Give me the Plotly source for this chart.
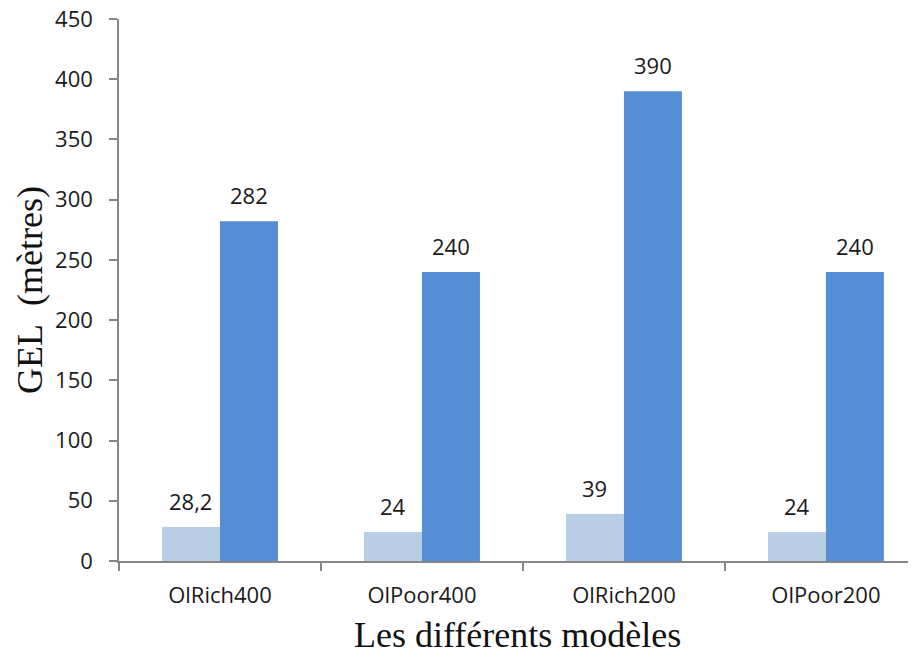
import plotly.graph_objects as go

categories = ["OlRich400", "OlPoor400", "OlRich200", "OlPoor200"]
light_values = [28.2, 24, 39, 24]
dark_values = [282, 240, 390, 240]
y_ticks = [0, 50, 100, 150, 200, 250, 300, 350, 400, 450]
x_title = "Les différents modèles"
y_title = "GEL\u00a0\u00a0(mètres)"

LABEL_FONT = dict(family="Open Sans", size=22, color="#1a1a1a")
TITLE_FONT = dict(family="Liberation Serif", size=36, color="#111")


def fmt(v):
    return ("%g" % v).replace(".", ",")


fig = go.Figure()
fig.add_trace(go.Bar(x=categories, y=light_values, marker_color="#B9CDE5",
                     marker_line_width=0, name="a"))
fig.add_trace(go.Bar(x=categories, y=dark_values, marker_color="#558ED5",
                     marker_line_width=0, name="b"))

annotations = []
for i, c in enumerate(categories):
    for vals, shift in ((light_values, -29), (dark_values, 29)):
        annotations.append(dict(x=c, y=vals[i], text=fmt(vals[i]), xref="x", yref="y",
                                showarrow=False, xshift=shift, yshift=26, yanchor="middle",
                                font=LABEL_FONT))

# axis titles as annotations
annotations.append(dict(text=y_title, xref="paper", yref="paper", x=0, y=0.5,
                        xshift=-89, xanchor="center", yanchor="middle", textangle=-90,
                        showarrow=False, font=TITLE_FONT))
annotations.append(dict(text=x_title, xref="paper", yref="paper", x=0.5, y=0,
                        yshift=-52, xanchor="center", yanchor="top",
                        showarrow=False, font=TITLE_FONT))

fig.update_layout(
    width=908, height=652,
    margin=dict(l=111, r=0, t=11, b=99),
    paper_bgcolor="white", plot_bgcolor="white",
    barmode="group", bargap=0.426, bargroupgap=0,
    showlegend=False,
    annotations=annotations,
    xaxis=dict(range=[-0.5, 3.446], tickson="boundaries", ticks="outside", ticklen=8,
               tickcolor="#868686", tickwidth=1.5, showline=True, linecolor="#868686",
               linewidth=1.5, tickfont=LABEL_FONT, ticklabelstandoff=14,
               showgrid=False, automargin=False),
    yaxis=dict(range=[0, 450], tickvals=y_ticks, ticks="outside", ticklen=8,
               tickcolor="#868686", tickwidth=1.5, showline=True, linecolor="#868686",
               linewidth=1.5, tickfont=LABEL_FONT, ticklabelstandoff=12,
               ticklabeloverflow="allow",
               showgrid=False, zeroline=False, automargin=False),
)

fig.write_html("out.html")
